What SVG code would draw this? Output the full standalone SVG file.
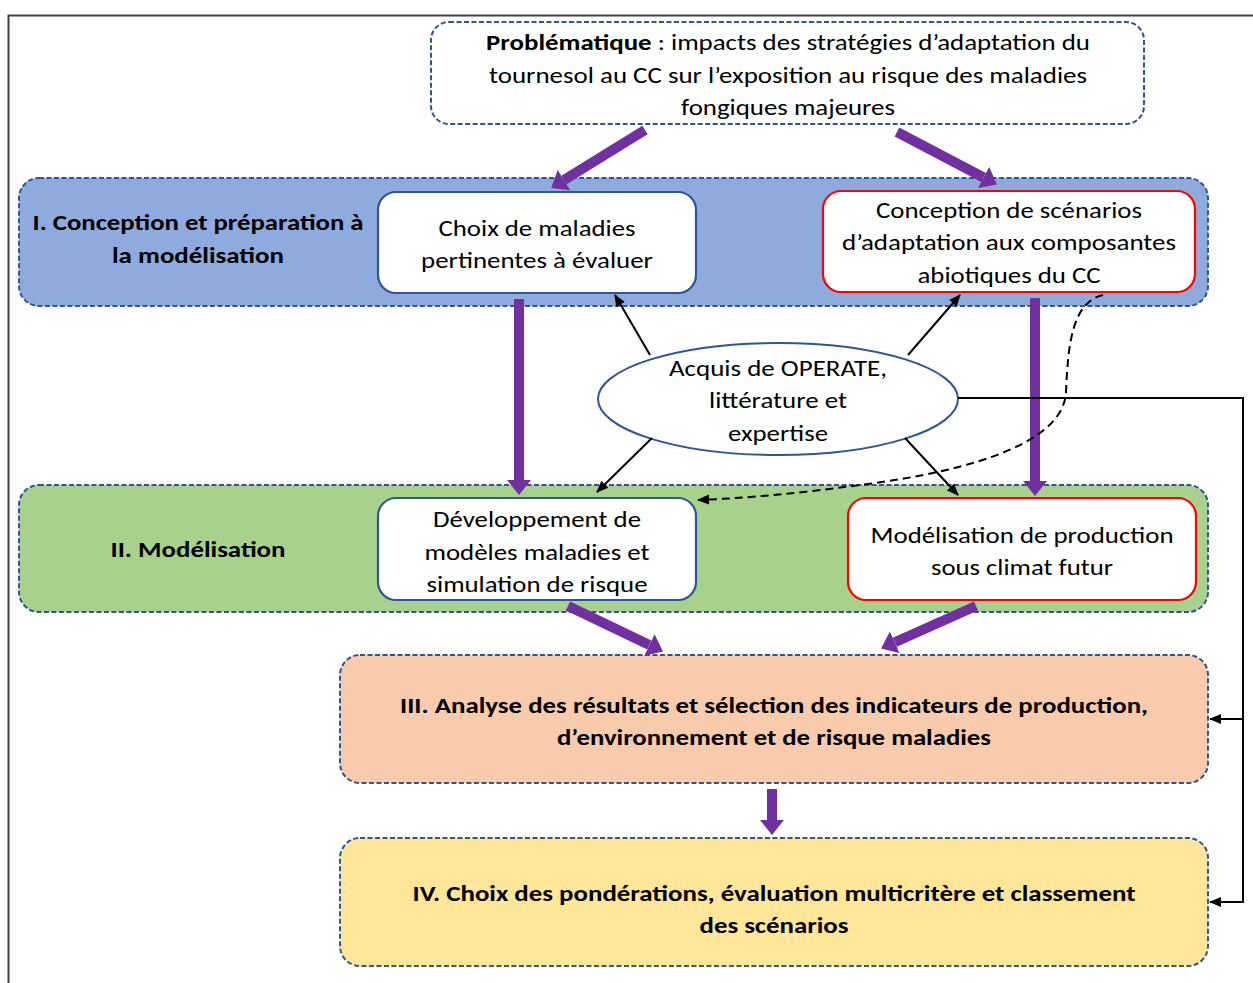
<svg xmlns="http://www.w3.org/2000/svg" width="1253" height="983" viewBox="0 0 1253 983">
<defs>
<style>
.t{font-family:Carlito,"Liberation Sans",Arial,sans-serif;font-size:22px;fill:#000;text-anchor:middle}
.b{font-weight:bold}
.band{stroke:#2F5597;stroke-width:2;stroke-dasharray:5,2.5}
.wb{fill:#fff;stroke:#2F5597;stroke-width:2.2}
.rb{fill:#fff;stroke:#FF0000;stroke-width:2.2}
.pu{stroke:#7030A0;stroke-width:10;fill:none}
.bk{stroke:#000;stroke-width:2;fill:none}
</style>
<marker id="pa" markerUnits="userSpaceOnUse" markerWidth="16" markerHeight="24" refX="0" refY="12" orient="auto">
<path d="M0,0 L15,12 L0,24 z" fill="#7030A0"/>
</marker>
<marker id="ba" markerUnits="userSpaceOnUse" markerWidth="12" markerHeight="12" refX="11" refY="6" orient="auto">
<path d="M0,1 L12,6 L0,11 z" fill="#000"/>
</marker>
</defs>
<rect width="1253" height="983" fill="#fff"/>
<path d="M8.5,983 V15.5 H1253" fill="none" stroke="#404040" stroke-width="2"/>

<g id="problematique">
<rect x="431" y="22" width="713" height="102" rx="18" fill="#fff" class="band"/>
<text class="t" x="788" y="50" textLength="604" lengthAdjust="spacingAndGlyphs"><tspan class="b">Problématique</tspan> : impacts des stratégies d’adaptation du</text>
<text class="t" x="788" y="83" textLength="598" lengthAdjust="spacingAndGlyphs">tournesol au CC sur l’exposition au risque des maladies</text>
<text class="t" x="788" y="115" textLength="214" lengthAdjust="spacingAndGlyphs">fongiques majeures</text>
</g>

<g id="band1">
<rect x="19" y="178" width="1189" height="128" rx="20" fill="#8FAADC" class="band"/>
<text class="t b" x="198" y="230" textLength="331" lengthAdjust="spacingAndGlyphs">I. Conception et préparation à</text>
<text class="t b" x="198" y="263" textLength="172" lengthAdjust="spacingAndGlyphs">la modélisation</text>
</g>

<g id="band2">
<rect x="19" y="485" width="1189" height="127" rx="20" fill="#A9D18E" class="band"/>
<text class="t b" x="198" y="557" textLength="175" lengthAdjust="spacingAndGlyphs">II. Modélisation</text>
</g>

<g id="band3">
<rect x="340" y="655" width="868" height="128" rx="20" fill="#F8CBAD" class="band"/>
<text class="t b" x="774" y="713" textLength="748" lengthAdjust="spacingAndGlyphs">III. Analyse des résultats et sélection des indicateurs de production,</text>
<text class="t b" x="774" y="745" textLength="434" lengthAdjust="spacingAndGlyphs">d’environnement et de risque maladies</text>
</g>

<g id="band4">
<rect x="340" y="838" width="868" height="128" rx="20" fill="#FFE699" class="band"/>
<text class="t b" x="774" y="901" textLength="723" lengthAdjust="spacingAndGlyphs">IV. Choix des pondérations, évaluation multicritère et classement</text>
<text class="t b" x="774" y="933" textLength="149" lengthAdjust="spacingAndGlyphs">des scénarios</text>
</g>

<g id="choix">
<rect x="378" y="192" width="318" height="101" rx="18" class="wb"/>
<text class="t" x="537" y="236" textLength="197" lengthAdjust="spacingAndGlyphs">Choix de maladies</text>
<text class="t" x="537" y="268" textLength="232" lengthAdjust="spacingAndGlyphs">pertinentes à évaluer</text>
</g>

<g id="conception">
<rect x="823" y="191" width="372" height="101" rx="18" class="rb"/>
<text class="t" x="1009" y="218" textLength="266" lengthAdjust="spacingAndGlyphs">Conception de scénarios</text>
<text class="t" x="1009" y="250" textLength="334" lengthAdjust="spacingAndGlyphs">d’adaptation aux composantes</text>
<text class="t" x="1009" y="283" textLength="183" lengthAdjust="spacingAndGlyphs">abiotiques du CC</text>
</g>

<g id="acquis">
<ellipse cx="778" cy="399" rx="180" ry="56" fill="#fff" stroke="#2F5597" stroke-width="2"/>
<text class="t" x="778" y="376" textLength="218" lengthAdjust="spacingAndGlyphs">Acquis de OPERATE,</text>
<text class="t" x="778" y="408" textLength="138" lengthAdjust="spacingAndGlyphs">littérature et</text>
<text class="t" x="778" y="441" textLength="100" lengthAdjust="spacingAndGlyphs">expertise</text>
</g>

<g id="developpement">
<rect x="378" y="498" width="318" height="102" rx="18" class="wb"/>
<text class="t" x="537" y="527" textLength="208" lengthAdjust="spacingAndGlyphs">Développement de</text>
<text class="t" x="537" y="560" textLength="225" lengthAdjust="spacingAndGlyphs">modèles maladies et</text>
<text class="t" x="537" y="592" textLength="221" lengthAdjust="spacingAndGlyphs">simulation de risque</text>
</g>

<g id="modelisation">
<rect x="848" y="498" width="348" height="102" rx="18" class="rb"/>
<text class="t" x="1022" y="543" textLength="303" lengthAdjust="spacingAndGlyphs">Modélisation de production</text>
<text class="t" x="1022" y="575" textLength="182" lengthAdjust="spacingAndGlyphs">sous climat futur</text>
</g>

<g id="connectors">
<line class="pu" x1="645" y1="130" x2="564" y2="180" marker-end="url(#pa)"/>
<line class="pu" x1="897" y1="132" x2="983.6" y2="177.5" marker-end="url(#pa)"/>
<line class="pu" x1="519" y1="299" x2="519" y2="480" marker-end="url(#pa)"/>
<line class="pu" x1="1035" y1="298" x2="1035" y2="481" marker-end="url(#pa)"/>
<line class="pu" x1="568" y1="606" x2="649.4" y2="645" marker-end="url(#pa)"/>
<line class="pu" x1="976" y1="606" x2="894.8" y2="642.3" marker-end="url(#pa)"/>
<line class="pu" x1="772" y1="789" x2="772" y2="820" marker-end="url(#pa)"/>

<line class="bk" x1="650" y1="355" x2="615" y2="295" marker-end="url(#ba)"/>
<line class="bk" x1="908" y1="355" x2="960" y2="295" marker-end="url(#ba)"/>
<line class="bk" x1="652" y1="438" x2="597" y2="492" marker-end="url(#ba)"/>
<line class="bk" x1="905" y1="438" x2="958" y2="495" marker-end="url(#ba)"/>

<path class="bk" stroke-dasharray="8,5" d="M1103,295 C1072,302 1068,345 1066,392 C1064,440 980,470 860,485 C800,493 750,498 698,500" marker-end="url(#ba)"/>

<polyline class="bk" points="958,398 1243,398 1243,902 1210,902" marker-end="url(#ba)"/>
<line class="bk" x1="1243" y1="719" x2="1210" y2="719" marker-end="url(#ba)"/>
</g>
</svg>
